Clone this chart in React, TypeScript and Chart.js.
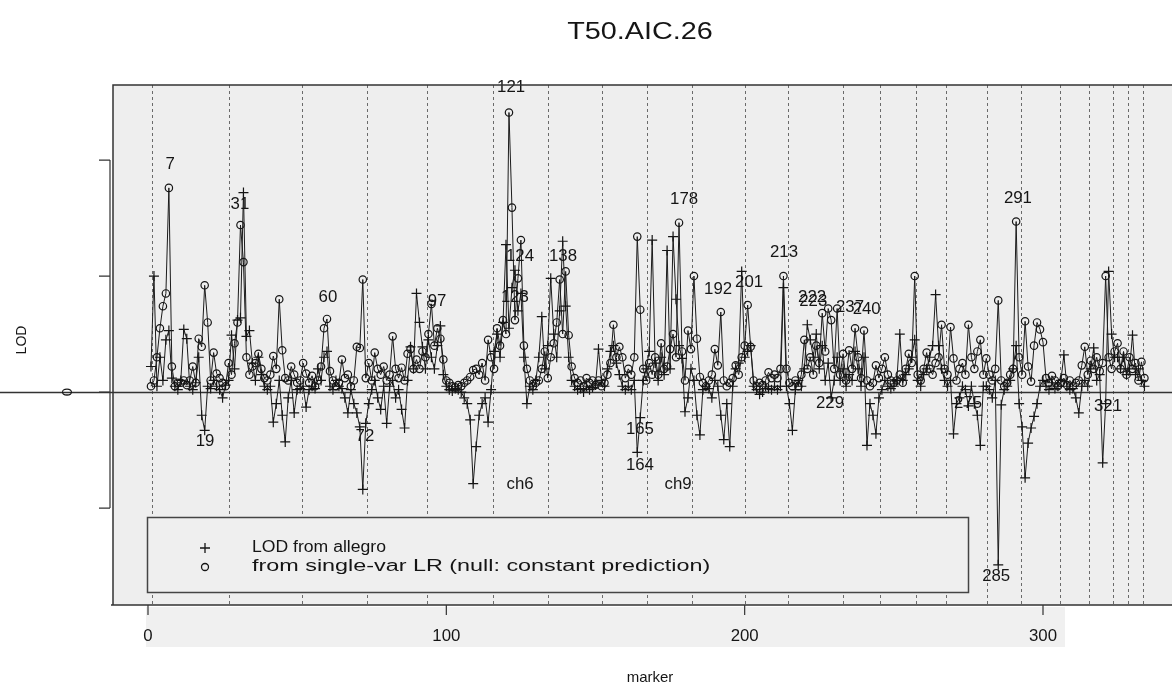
import React, { useEffect, useRef } from "react";
import { Chart, registerables } from "chart.js";
Chart.register(...registerables);

// LOD from single-var LR (o)
const lrValues: number[] = [
  0.05, 0.1, 0.3, 0.55, 0.74, 0.85, 1.76, 0.22, 0.05, 0.08,
  0.08, 0.1, 0.06, 0.1, 0.22, 0.08, 0.46, 0.39, 0.92, 0.6,
  0.1, 0.34, 0.16, 0.12, 0.08, 0.05, 0.25, 0.15, 0.42, 0.6,
  1.44, 1.12, 0.3, 0.15, 0.22, 0.25, 0.33, 0.2, 0.12, 0.1,
  0.15, 0.31, 0.2, 0.8, 0.36, 0.12, 0.1, 0.22, 0.15, 0.08,
  0.1, 0.25, 0.16, 0.08, 0.14, 0.05, 0.1, 0.22, 0.55, 0.63,
  0.18, 0.1, 0.05, 0.08, 0.28, 0.12, 0.15, 0.05, 0.1, 0.39,
  0.38, 0.97, 0.12, 0.25, 0.1, 0.34, 0.2, 0.15, 0.22, 0.1,
  0.15, 0.48, 0.2, 0.12, 0.21, 0.1, 0.33, 0.37, 0.2, 0.28,
  0.2, 0.35, 0.3, 0.5, 0.76, 0.4, 0.55, 0.46, 0.28, 0.1,
  0.08, 0.05, 0.04, 0.06, 0.05, 0.08, 0.1, 0.13, 0.19, 0.2,
  0.15, 0.25, 0.1, 0.45, 0.3, 0.2, 0.55, 0.4, 0.62, 0.5,
  2.41, 1.59, 0.62, 0.98, 1.31, 0.4, 0.2, 0.1, 0.05, 0.08,
  0.1, 0.2, 0.35, 0.12, 0.3, 0.42, 0.6, 0.97, 0.5, 1.04,
  0.49, 0.22, 0.12, 0.08, 0.1, 0.05, 0.12, 0.08, 0.1, 0.06,
  0.1, 0.05, 0.08, 0.15, 0.25, 0.58, 0.3, 0.39, 0.3, 0.12,
  0.2, 0.15, 0.3, 1.34, 0.71, 0.2, 0.1, 0.25, 0.15, 0.3,
  0.15, 0.42, 0.2, 0.22, 0.37, 0.5, 0.3, 1.46, 0.35, 0.1,
  0.53, 0.37, 1.0, 0.46, 0.13, 0.08, 0.05, 0.1, 0.15, 0.37,
  0.23, 0.69, 0.1, 0.05, 0.08, 0.12, 0.23, 0.15, 0.3, 0.4,
  0.75, 0.39, 0.1, 0.05, 0.08, 0.06, 0.1, 0.17, 0.12, 0.15,
  0.12, 0.2, 1.0, 0.2, 0.08, 0.05, 0.1, 0.05, 0.15, 0.45,
  0.2, 0.3, 0.15, 0.4, 0.25, 0.68, 0.35, 0.72, 0.62, 0.2,
  0.72, 0.15, 0.33, 0.1, 0.36, 0.2, 0.55, 0.3, 0.12, 0.53,
  0.1, 0.05, 0.08, 0.23, 0.12, 0.2, 0.3, 0.15, 0.1, 0.08,
  0.1, 0.15, 0.08, 0.2, 0.33, 0.25, 1.0, 0.15, 0.1, 0.2,
  0.34, 0.2, 0.15, 0.25, 0.3, 0.58, 0.2, 0.15, 0.56, 0.29,
  0.1, 0.2, 0.25, 0.15, 0.58, 0.3, 0.2, 0.35, 0.45, 0.15,
  0.29, 0.15, 0.1, 0.2, 0.79, 0.1, 0.05, 0.08, 0.15, 0.2,
  1.47, 0.3, 0.15, 0.61, 0.22, 0.09, 0.4, 0.6, 0.54, 0.43,
  0.12, 0.08, 0.14, 0.1, 0.05, 0.08, 0.12, 0.06, 0.1, 0.05,
  0.08, 0.1, 0.23, 0.39, 0.15, 0.27, 0.2, 0.3, 0.18, 0.25,
  1.0, 0.3, 0.2, 0.35, 0.42, 0.2, 0.35, 0.15, 0.3, 0.2,
  0.25, 0.1, 0.26, 0.12,
];

// LOD from allegro (+)
const allegroValues: number[] = [
  0.22, 1.0, 0.05, 0.3, 0.1, 0.45, 0.53, 0.12, 0.05, 0.02,
  0.1, 0.54, 0.46, 0.05, 0.02, 0.08, 0.3, -0.2, -0.33, 0.05,
  0.03, 0.1, 0.05, 0.02, -0.05, 0.06, 0.1, 0.49, 0.2, 0.62,
  0.64, 1.72, 0.48, 0.53, 0.25, 0.1, 0.3, 0.15, 0.05, 0.02,
  0.05, -0.26, -0.1, 0.1, -0.2, -0.43, -0.05, 0.1, -0.18, 0.02,
  0.03, 0.05, -0.13, 0.02, 0.05, 0.03, 0.2, 0.1, 0.3, 0.35,
  0.05, 0.02, 0.1, 0.05, 0.03, -0.05, -0.18, 0.02, -0.1, -0.18,
  -0.3, -0.84, -0.27, -0.1, 0.02, 0.1, -0.05, -0.15, 0.05, -0.27,
  0.05, 0.1, -0.05, 0.02, -0.15, -0.31, 0.1, 0.39, 0.2, 0.85,
  0.6, 0.39, 0.2, 0.45, 0.3, 0.2, 0.4, 0.57, 0.15, 0.05,
  0.02, 0.01, 0.03, 0.02, 0.0, -0.05, -0.1, -0.24, -0.79, -0.47,
  -0.2, -0.1, -0.05, -0.26, 0.02, 0.35, 0.5, 0.3, 0.6, 1.27,
  0.55, 0.9, 1.05, 0.7, 0.85, 0.3, -0.1, 0.05, 0.02, 0.1,
  0.3, 0.65, 0.2, 0.4, 0.98, 0.5, 0.3, 0.7, 1.3, 0.74,
  0.3, 0.1, 0.05, 0.02, 0.03, 0.0, 0.05, 0.02, 0.04, 0.06,
  0.37, 0.1, 0.05, 0.2, 0.35, 0.4, 0.25, 0.15, 0.05, 0.02,
  0.05, 0.02, 0.1, -0.52, -0.22, 0.1, 0.2, 0.35, 1.31, 0.25,
  0.1, 0.3, 0.15, 1.22, 0.2, 1.34, 0.8, 0.4, 0.29, -0.17,
  -0.05, 0.2, 0.1, -0.2, -0.37, 0.02, 0.05, 0.03, -0.05, 0.1,
  0.05, -0.2, -0.41, -0.1, -0.47, 0.05, 0.2, 0.25, 1.04, 0.3,
  0.35, 0.4, 0.05, 0.02, -0.02, 0.0, 0.05, 0.03, 0.02, 0.05,
  0.02, 0.05, 0.9, 0.05, -0.1, -0.33, 0.02, 0.1, 0.05, 0.2,
  0.58, 0.45, 0.3, 0.5, 0.2, 0.4, 0.1, 0.25, -0.05, 0.1,
  0.3, 0.1, 0.2, 0.05, 0.15, 0.1, 0.35, 0.2, 0.05, 0.3,
  -0.46, -0.1, -0.2, -0.36, -0.05, 0.02, 0.1, 0.05, 0.03, 0.05,
  0.1, 0.5, 0.1, 0.15, 0.2, 0.3, 0.45, 0.1, 0.05, 0.15,
  0.2, 0.3, 0.4, 0.84, 0.4, 0.2, 0.1, 0.05, 0.1, -0.36,
  -0.1, -0.05, 0.05, 0.02, -0.12, 0.05, -0.1, -0.2, -0.46, 0.05,
  0.05, 0.02, -0.05, 0.1, -1.49, -0.11, 0.02, 0.05, 0.1, 0.2,
  0.4, -0.1, -0.3, -0.74, -0.44, -0.31, -0.21, -0.1, 0.05, 0.1,
  0.05, 0.02, 0.08, 0.03, 0.05, 0.1, 0.32, 0.05, 0.02, 0.03,
  -0.05, -0.18, 0.05, 0.1, 0.05, 0.2, 0.38, 0.1, 0.15, -0.61,
  -0.1, 1.04, 0.5, 0.3, 0.3, 0.2, 0.3, 0.15, 0.2, 0.49,
  0.15, 0.2, 0.1, 0.05,
];

// chromosome boundaries (marker positions)
const chromBounds: number[] = [
  1.3, 27.0, 51.6, 73.4, 93.5, 115.7, 134.1, 152.2, 167.3, 182.4, 200.1, 214.5,
  233.0, 245.4, 257.5, 267.5, 281.2, 292.7, 305.8, 315.5, 323.3, 328.6, 333.6,
];

const xTicks: number[] = [0, 100, 200, 300];
const yTicks: number[] = [-1, 0, 1, 2];
const yTickLabels: string[] = ["", "0", "", ""];

// annotation labels: text, marker position, LOD position
const annText: string[] = [
  "7", "31", "19", "60", "72", "97", "121", "124", "123", "138", "165", "164",
  "178", "192", "201", "213", "222", "223", "237", "240", "229", "275", "285",
  "291", "321", "ch6", "ch9",
];
const annMarker: number[] = [
  7.4, 30.8, 19.1, 60.3, 72.7, 96.9, 121.7, 124.7, 123.0, 139.1, 164.9, 164.9,
  179.7, 191.1, 201.5, 213.2, 222.6, 223.0, 235.3, 240.9, 228.6, 274.9, 284.3,
  291.6, 321.8, 124.7, 177.7,
];
const annLod: number[] = [
  1.957, 1.612, -0.431, 0.81, -0.388, 0.776, 2.621, 1.164, 0.81, 1.164, -0.328, -0.638,
  1.655, 0.879, 0.94, 1.198, 0.81, 0.784, 0.724, 0.707, -0.103, -0.103, -1.595,
  1.672, -0.129, -0.802, -0.802,
];

const legendLabels: string[] = ["LOD from allegro", "from single-var LR (null: constant prediction)"];
const titleText = "T50.AIC.26";
const xTitle = "marker";
const yTitle = "LOD";

const FONT = '"Liberation Sans", Arial, Helvetica, sans-serif';
const INK = "#151515";

function drawText(
  ctx: CanvasRenderingContext2D,
  s: string,
  x: number,
  y: number,
  size: number,
  align: CanvasTextAlign = "center",
  sx = 1,
  rot = 0
) {
  ctx.save();
  ctx.translate(x, y);
  if (rot) ctx.rotate(rot);
  ctx.scale(sx, 1);
  ctx.font = `${size}px ${FONT}`;
  ctx.textAlign = align;
  ctx.textBaseline = "middle";
  ctx.fillStyle = INK;
  ctx.fillText(s, 0, 0);
  ctx.restore();
}

const decor = {
  id: "decor",
  beforeDraw(chart: any) {
    const { ctx, chartArea: a } = chart;
    ctx.save();
    ctx.fillStyle = "#ffffff";
    ctx.fillRect(0, 0, chart.width, chart.height);
    ctx.fillStyle = "#eeeeee";
    ctx.fillRect(a.left, a.top, a.right - a.left, a.bottom - a.top);
    // light band behind the x tick labels (as in the scan)
    ctx.fillStyle = "#f0f0f0";
    ctx.fillRect(146, a.bottom + 2, 919, 40);
    ctx.restore();
  },
  beforeDatasetsDraw(chart: any) {
    const { ctx, chartArea: a, scales } = chart;
    const xs = scales.x;
    const ys = scales.y;
    ctx.save();
    ctx.strokeStyle = "#6a6a6a";
    ctx.lineWidth = 1;
    ctx.setLineDash([3, 3]);
    chromBounds.forEach((b) => {
      const px = Math.round(xs.getPixelForValue(b)) + 0.5;
      ctx.beginPath();
      ctx.moveTo(px, a.top);
      ctx.lineTo(px, a.bottom);
      ctx.stroke();
    });
    ctx.setLineDash([]);
    const y0 = Math.round(ys.getPixelForValue(0)) + 0.5;
    ctx.strokeStyle = "#333";
    ctx.lineWidth = 1.4;
    ctx.beginPath();
    ctx.moveTo(0, y0);
    ctx.lineTo(chart.width, y0);
    ctx.stroke();
    ctx.restore();
  },
  afterDatasetsDraw(chart: any) {
    const { ctx, chartArea: a, scales } = chart;
    const xs = scales.x;
    const ys = scales.y;
    ctx.save();
    // peak labels
    annText.forEach((t, i) => {
      drawText(ctx, t, xs.getPixelForValue(annMarker[i]), ys.getPixelForValue(annLod[i]), 16, "center", 1.05);
    });

    // legend box
    const lx = 147, ly = 517, lw = 821, lh = 75;
    ctx.fillStyle = "#efefef";
    ctx.fillRect(lx, ly, lw, lh);
    ctx.strokeStyle = "#444";
    ctx.lineWidth = 1.5;
    ctx.strokeRect(lx + 0.5, ly + 0.5, lw, lh);
    // + symbol
    ctx.strokeStyle = INK;
    ctx.lineWidth = 1.3;
    ctx.beginPath();
    ctx.moveTo(200, 548);
    ctx.lineTo(210, 548);
    ctx.moveTo(205, 543);
    ctx.lineTo(205, 553);
    ctx.stroke();
    // o symbol
    ctx.beginPath();
    ctx.arc(205, 567, 3.5, 0, Math.PI * 2);
    ctx.stroke();
    drawText(ctx, legendLabels[0], 252, 548, 16, "left", 1.1);
    drawText(ctx, legendLabels[1], 252, 567, 16, "left", 1.46);

    // frame
    ctx.strokeStyle = "#333";
    ctx.lineWidth = 1.5;
    ctx.beginPath();
    ctx.moveTo(a.left, a.bottom);
    ctx.lineTo(a.left, a.top);
    ctx.lineTo(a.right, a.top);
    ctx.moveTo(a.left - 2, a.bottom);
    ctx.lineTo(a.right, a.bottom);
    ctx.stroke();

    // y axis
    const yax = a.left - 3;
    ctx.lineWidth = 1.2;
    ctx.beginPath();
    ctx.moveTo(yax, ys.getPixelForValue(yTicks[yTicks.length - 1]));
    ctx.lineTo(yax, ys.getPixelForValue(yTicks[0]));
    yTicks.forEach((v) => {
      const py = ys.getPixelForValue(v);
      ctx.moveTo(yax - 11, py);
      ctx.lineTo(yax, py);
    });
    ctx.stroke();
    yTicks.forEach((v, i) => {
      if (yTickLabels[i]) drawText(ctx, yTickLabels[i], 68, ys.getPixelForValue(v), 15, "center", 1, -Math.PI / 2);
    });

    // x axis ticks
    ctx.beginPath();
    xTicks.forEach((v) => {
      const px = xs.getPixelForValue(v);
      ctx.moveTo(px, a.bottom);
      ctx.lineTo(px, a.bottom + 10);
    });
    ctx.stroke();
    xTicks.forEach((v) => {
      drawText(ctx, String(v), xs.getPixelForValue(v), 637, 16, "center", 1.05);
    });

    // titles
    drawText(ctx, titleText, 640, 32, 24, "center", 1.2);
    drawText(ctx, xTitle, 650, 678, 15, "center", 1);
    drawText(ctx, yTitle, 22, 340, 14, "center", 1, -Math.PI / 2);
    ctx.restore();
  },
};

export default function App() {
  const ref = useRef<HTMLCanvasElement | null>(null);
  useEffect(() => {
    if (!ref.current) return;
    const markers = lrValues.map((_, i) => i + 1);
    const chart = new Chart(ref.current, {
      type: "line",
      data: {
        datasets: [
          {
            label: legendLabels[0],
            data: markers.map((m, i) => ({ x: m, y: allegroValues[i] })),
            borderColor: "#1c1c1c",
            borderWidth: 1,
            pointStyle: "cross",
            pointRadius: 5,
            pointBorderWidth: 1.2,
            pointBorderColor: INK,
            pointBackgroundColor: INK,
            tension: 0,
          },
          {
            label: legendLabels[1],
            data: markers.map((m, i) => ({ x: m, y: lrValues[i] })),
            borderColor: "#1c1c1c",
            borderWidth: 1,
            pointStyle: "circle",
            pointRadius: 3.7,
            pointBorderWidth: 1.2,
            pointBorderColor: INK,
            pointBackgroundColor: "rgba(0,0,0,0)",
            tension: 0,
          },
        ],
      },
      options: {
        responsive: false,
        animation: false,
        devicePixelRatio: 1,
        layout: { autoPadding: false, padding: { left: 113, top: 85, right: 0, bottom: 81 } },
        plugins: {
          legend: { display: false },
          tooltip: { enabled: false },
          title: { display: false },
        },
        scales: {
          x: { type: "linear", display: false, min: -11.73, max: 343.24 },
          y: { type: "linear", display: false, min: -1.836, max: 2.647 },
        },
      },
      plugins: [decor],
    });
    return () => chart.destroy();
  }, []);
  return (
    <div style={{ position: "absolute", left: 0, top: 0, width: 1172, height: 686 }}>
      <canvas ref={ref} width={1172} height={686} style={{ display: "block" }} />
    </div>
  );
}
